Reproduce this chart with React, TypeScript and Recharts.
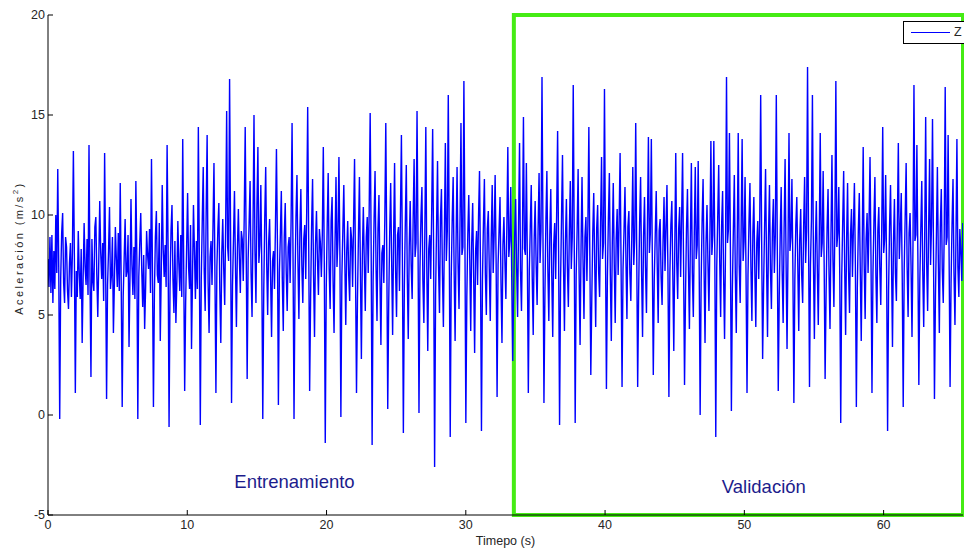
import {
  LineChart,
  Line,
  XAxis,
  YAxis,
  Label,
  ReferenceArea,
  ReferenceDot,
} from "recharts";

const FONT = "'Liberation Sans', Arial, Helvetica, sans-serif";

// sampling step of the recording (s)
const STEP = 0.0701;

const xTicks = [0, 10, 20, 30, 40, 50, 60];
const yTicks = [-5, 0, 5, 10, 15, 20];

// split between training and validation (s)
const splitTime = 33.45;
const endTime = 65.7;

// Z acceleration (m/s^2), training part, one stride per row
const zTrain = [
  7.8, 6.4, 8.9, 6.1, 9.0, 5.6, 8.2, 6.3, 10.0, 7.1,
  12.3, 7.4, -0.2, 6.8, 9.1, 10.1, 6.6, 5.6, 8.9, 8.4, 6.2, 5.3, 7.6, 8.6, 5.9, 8.1,
  13.2, 8.0, 1.1, 7.2, 5.9, 9.2, 7.1, 5.8, 8.3, 3.6, 6.9, 9.6, 7.4, 6.5, 8.8, 6.0,
  13.5, 6.9, 1.9, 8.8, 6.7, 6.2, 9.4, 9.9, 7.0, 4.9, 7.7, 10.7, 8.1, 6.8, 8.6, 5.7,
  13.1, 7.7, 0.8, 6.5, 8.2, 10.4, 6.3, 7.0, 8.9, 4.1, 6.6, 9.4, 7.8, 6.4, 9.1, 6.2,
  11.6, 6.5, 0.4, 5.9, 7.8, 9.8, 6.9, 7.2, 9.0, 3.4, 7.0, 10.8, 7.5, 6.0, 8.4, 5.8,
  11.7, 7.9, -0.2, 6.9, 8.6, 10.1, 7.3, 5.4, 8.0, 4.3, 6.4, 9.2, 8.0, 7.3, 9.3, 6.1,
  12.8, 7.2, 0.4, 6.1, 8.9, 10.2, 7.0, 6.6, 9.6, 3.7, 7.1, 11.5, 8.3, 6.9, 8.5, 6.4,
  13.5, 8.4, -0.6, 6.4, 9.2, 10.5, 6.8, 5.1, 8.7, 4.6, 6.7, 9.7, 7.6, 6.2, 9.0, 5.9,
  13.8, 7.5, 1.2, 5.6, 8.4, 11.1, 7.4, 6.3, 9.5, 3.3, 6.8, 10.5, 8.2, 5.8, 8.7, 6.3,
  14.4, 8.1, -0.5, 6.8, 9.7, 12.4, 7.2, 5.2, 10.1, 14.0, 6.6, 4.1, 7.9, 8.7, 6.5, 9.4,
  12.6, 7.0, 1.1, 7.4, 9.3, 10.6, 6.2, 3.6, 8.1, 9.8, 7.3, 5.5, 9.6, 15.2, 8.4, 7.7,
  16.8, 9.2, 0.6, 6.5, 8.8, 11.2, 7.5, 4.4, 8.3, 10.3, 7.9, 6.1, 9.2, 8.8, 6.7, 9.9,
  14.4, 8.3, 1.8, 7.8, 9.6, 11.7, 7.1, 4.9, 9.4, 15.0, 8.2, 5.6, 10.4, 13.4, 7.6, 8.5,
  11.5, 7.3, -0.2, 6.2, 9.8, 12.4, 7.6, 5.0, 8.6, 9.8, 6.9, 3.9, 7.7, 8.2, 6.3, 9.5,
  13.3, 8.6, 0.5, 7.1, 9.0, 11.2, 6.8, 4.2, 8.9, 10.6, 7.2, 5.2, 8.4, 8.9, 6.6, 9.7,
  14.6, 7.8, -0.2, 6.6, 9.9, 12.0, 7.7, 4.8, 9.1, 11.3, 7.5, 5.6, 8.8, 9.5, 6.8, 10.2,
  15.4, 8.8, 1.2, 5.9, 9.4, 11.8, 7.0, 3.9, 8.5, 10.2, 7.8, 6.0, 9.3, 8.6, 6.9, 9.1,
  13.4, 7.6, -1.4, 6.3, 9.5, 12.1, 7.3, 5.3, 9.7, 10.9, 6.7, 4.1, 8.6, 11.9, 7.4, 8.8,
  12.9, 8.0, -0.1, 6.9, 9.2, 11.5, 7.8, 4.5, 8.2, 9.7, 7.0, 5.7, 9.4, 8.8, 6.4, 9.6,
  12.8, 7.1, 1.1, 5.8, 9.0, 11.9, 7.2, 2.8, 8.0, 10.4, 7.6, 5.2, 8.9, 9.9, 7.1, 10.3,
  15.1, 8.5, -1.5, 6.7, 9.8, 12.2, 7.4, 4.7, 9.3, 11.0, 6.9, 3.5, 8.1, 8.5, 6.6, 9.8,
  14.6, 8.2, 0.3, 5.6, 9.1, 11.6, 7.7, 4.0, 8.8, 12.6, 7.3, 4.9, 9.0, 9.4, 6.2, 10.0,
  14.0, 7.9, -0.9, 6.4, 9.6, 12.5, 7.0, 3.8, 8.4, 10.7, 7.5, 5.8, 9.7, 12.8, 7.9, 8.6,
  15.2, 8.7, 0.1, 7.3, 9.9, 11.4, 6.7, 4.6, 9.2, 14.4, 7.4, 3.2, 8.3, 9.0, 6.8, 10.1,
  14.3, 8.1, -2.6, 6.0, 9.4, 12.7, 7.5, 5.1, 9.8, 11.3, 7.1, 4.4, 8.9, 13.6, 7.7, 9.2,
  16.0, 8.9, -1.1, 6.8, 9.7, 11.9, 7.2, 3.7, 8.7, 12.4, 7.6, 5.3, 9.5, 14.6, 8.0, 8.4,
  16.7, 9.3, -0.4, 5.9, 9.0, 11.0, 7.8, 4.2, 8.6, 10.6, 6.9, 3.1, 8.2, 9.2, 6.5, 9.9,
  12.2, 7.4, -0.8, 6.7, 9.5, 11.8, 7.0, 5.0, 9.3, 10.2, 7.3, 4.7, 8.8, 11.5, 7.1, 9.0,
  12.0, 7.7, 0.9, 7.5, 9.2, 10.9, 6.6, 3.6, 8.5, 9.9, 7.7, 5.8, 9.4, 13.4, 7.9, 8.7,
];

// Z acceleration (m/s^2), validation part
const zValid = [
  11.4, 6.9, 2.7, 6.3, 8.9, 10.8, 7.4, 4.9, 9.6, 13.6, 7.2, 5.2, 9.1, 14.9, 8.3, 8.0,
  12.6, 7.8, 1.1, 7.2, 9.4, 11.5, 6.9, 4.0, 8.8, 10.7, 7.5, 5.5, 9.3, 12.1, 7.6, 9.2,
  16.9, 9.0, 0.6, 6.1, 9.7, 12.2, 7.3, 4.7, 9.0, 11.3, 7.0, 3.9, 8.5, 9.6, 6.8, 10.0,
  14.2, 8.2, -0.5, 6.6, 9.9, 13.0, 7.6, 4.2, 8.7, 10.8, 7.4, 5.4, 9.2, 11.7, 7.3, 8.9,
  16.5, 8.8, -0.4, 7.0, 9.3, 12.3, 7.1, 3.5, 8.4, 11.9, 7.8, 4.8, 8.9, 9.9, 6.7, 9.5,
  14.4, 8.0, 2.0, 5.8, 9.1, 11.1, 7.5, 4.4, 9.3, 10.5, 7.2, 5.9, 9.6, 12.9, 7.8, 8.6,
  16.3, 8.6, 1.3, 6.9, 9.8, 12.1, 7.0, 3.7, 8.6, 11.6, 7.6, 4.6, 8.8, 10.3, 7.0, 9.7,
  13.1, 7.5, 1.4, 7.3, 9.2, 11.4, 7.7, 4.8, 9.4, 10.2, 7.1, 5.7, 9.0, 12.4, 7.5, 8.8,
  14.6, 8.3, 1.4, 6.2, 9.6, 11.9, 7.2, 3.9, 8.9, 10.9, 7.4, 5.1, 9.5, 13.9, 8.1, 9.1,
  13.8, 7.9, 2.0, 6.8, 9.0, 11.2, 7.6, 4.6, 9.2, 9.8, 6.9, 5.5, 8.7, 10.9, 7.2, 9.4,
  11.5, 7.2, 0.9, 7.1, 9.5, 10.7, 7.0, 3.2, 8.3, 13.1, 7.7, 5.8, 9.3, 10.4, 6.9, 9.8,
  13.1, 7.6, 1.5, 6.0, 9.3, 11.3, 7.4, 4.3, 8.8, 12.6, 7.1, 4.9, 9.1, 12.4, 7.8, 8.5,
  12.7, 7.4, 0.0, 6.6, 9.7, 11.8, 7.3, 3.6, 8.6, 10.5, 7.6, 5.2, 8.9, 13.7, 8.0, 9.0,
  13.7, 8.1, -1.1, 7.4, 9.9, 12.5, 7.8, 4.9, 9.5, 11.2, 7.0, 3.8, 8.4, 16.9, 8.6, 9.3,
  14.1, 8.4, 0.2, 6.3, 9.2, 12.0, 7.1, 4.1, 8.7, 14.1, 7.5, 5.6, 9.4, 13.8, 7.7, 8.7,
  11.9, 7.0, 1.1, 7.0, 9.6, 11.6, 7.4, 4.7, 9.1, 10.9, 7.2, 4.4, 8.6, 9.7, 6.8, 9.6,
  16.0, 8.7, 2.8, 6.5, 9.4, 12.3, 7.6, 3.9, 8.9, 11.5, 7.3, 5.3, 9.2, 10.8, 7.1, 9.0,
  16.0, 8.5, 1.2, 5.9, 9.0, 11.4, 7.2, 4.6, 9.3, 12.8, 7.7, 3.3, 8.3, 14.1, 8.2, 8.9,
  11.8, 7.3, 0.6, 6.8, 9.5, 10.9, 7.5, 4.2, 8.8, 10.3, 7.0, 5.6, 9.4, 11.9, 7.6, 9.2,
  17.4, 9.1, 1.4, 7.5, 9.8, 16.0, 7.9, 3.8, 8.5, 10.7, 7.4, 4.5, 8.9, 14.1, 7.9, 8.6,
  12.2, 7.6, 1.8, 6.1, 9.3, 11.3, 7.1, 4.3, 9.0, 13.0, 7.8, 5.4, 9.5, 16.7, 8.4, 9.1,
  11.4, 7.0, -0.4, 6.9, 9.6, 12.2, 7.5, 4.0, 8.7, 11.6, 7.2, 5.1, 9.0, 10.3, 6.9, 9.4,
  11.6, 7.5, 0.4, 6.4, 9.2, 11.1, 7.3, 3.7, 8.4, 13.4, 7.6, 4.8, 8.8, 10.1, 7.1, 9.7,
  12.9, 7.8, 1.1, 7.1, 9.7, 11.9, 7.0, 4.6, 9.2, 10.4, 7.4, 5.5, 9.3, 14.4, 8.1, 8.8,
  12.0, 7.2, -0.8, 6.2, 9.4, 11.5, 7.7, 3.4, 8.6, 10.8, 7.1, 5.7, 9.6, 13.6, 7.8, 9.3,
  11.1, 6.8, 0.4, 7.3, 9.9, 12.6, 7.4, 4.9, 9.1, 10.1, 7.5, 3.9, 8.5, 16.5, 8.7, 9.0,
  13.5, 8.0, 1.5, 6.7, 9.3, 11.7, 7.2, 4.4, 8.9, 14.9, 7.7, 5.2, 9.2, 12.8, 7.5, 9.5,
  14.8, 8.3, 0.8, 5.9, 9.0, 12.4, 7.6, 4.1, 9.4, 11.3, 7.3, 5.6, 9.1, 16.4, 8.5, 8.9,
  14.0, 7.9, 1.4, 6.6, 9.5, 11.8, 7.1, 4.5, 8.7, 13.8, 7.4, 5.9, 9.3, 8.2, 6.7, 9.6,
];

const data = [...zTrain, ...zValid].map((z, i) => ({ t: i * STEP, z }));

const tickStyle = { fontSize: 12.5, fill: "#262626", fontFamily: FONT };

const YTitle = (props: any) => {
  const { viewBox } = props;
  const cx = viewBox.x + 19;
  const cy = viewBox.y + 233;
  return (
    <text
      x={cx}
      y={cy}
      transform={`rotate(-90, ${cx}, ${cy})`}
      textAnchor="middle"
      dominantBaseline="central"
      fontSize={11}
      letterSpacing={2.4}
      fill="#262626"
      fontFamily={FONT}
    >
      Aceleración (m/s
      <tspan dy={-4} fontSize={8}>
        2
      </tspan>
      <tspan dy={4}>)</tspan>
    </text>
  );
};

export default function App() {
  return (
    <div
      style={{
        position: "absolute",
        left: 0,
        top: 0,
        width: 964,
        height: 550,
        overflow: "hidden",
        background: "#fff",
      }}
    >
      <LineChart
        width={964}
        height={550}
        data={data}
        margin={{ top: 15, right: 1, bottom: 0, left: 0 }}
      >
        <XAxis
          xAxisId="b"
          type="number"
          dataKey="t"
          domain={[0, endTime]}
          allowDataOverflow
          ticks={xTicks}
          interval={0}
          height={35}
          tickSize={-5}
          tickMargin={10}
          stroke="#000"
          tick={tickStyle}
        >
          <Label
            value="Timepo (s)"
            position="insideBottom"
            offset={5}
            style={{ fontSize: 12.5, fill: "#262626", fontFamily: FONT }}
          />
        </XAxis>
        <XAxis
          xAxisId="top"
          orientation="top"
          type="number"
          dataKey="t"
          domain={[0, endTime]}
          allowDataOverflow
          ticks={xTicks}
          interval={0}
          height={0}
          tickSize={-5}
          tickFormatter={() => ""}
          stroke="#000"
        />
        <YAxis
          yAxisId="l"
          domain={[-5, 20]}
          ticks={yTicks}
          interval={0}
          width={48}
          tickSize={-5}
          tickMargin={8}
          stroke="#000"
          tick={tickStyle}
        >
          <Label content={YTitle} />
        </YAxis>
        <YAxis
          yAxisId="r"
          orientation="right"
          domain={[-5, 20]}
          ticks={yTicks}
          interval={0}
          width={0}
          tickSize={-5}
          tickFormatter={() => ""}
          stroke="#000"
        />
        <Line
          xAxisId="b"
          yAxisId="l"
          type="linear"
          dataKey="z"
          stroke="#0000ff"
          strokeWidth={1.4}
          dot={false}
          isAnimationActive={false}
        />
        <ReferenceArea
          xAxisId="b"
          yAxisId="l"
          x1={splitTime}
          x2={endTime}
          y1={-5}
          y2={20}
          fill="none"
          fillOpacity={0}
          stroke="#45ec14"
          strokeWidth={4}
        />
        <ReferenceDot
          xAxisId="b"
          yAxisId="l"
          x={17.7}
          y={-3.3}
          r={0}
          fill="none"
          stroke="none"
          label={{
            value: "Entrenamiento",
            position: "center",
            fill: "#1c1c8c",
            fontSize: 18.5,
            fontFamily: FONT,
          }}
        />
        <ReferenceDot
          xAxisId="b"
          yAxisId="l"
          x={51.4}
          y={-3.55}
          r={0}
          fill="none"
          stroke="none"
          label={{
            value: "Validación",
            position: "center",
            fill: "#1c1c8c",
            fontSize: 18.5,
            fontFamily: FONT,
          }}
        />
      </LineChart>
      <div
        style={{
          position: "absolute",
          left: 903,
          top: 21,
          width: 70,
          height: 21,
          border: "1px solid #000",
          background: "#fff",
          fontFamily: FONT,
          fontSize: 12.5,
          color: "#262626",
        }}
      >
        <svg width={48} height={21} style={{ position: "absolute", left: 0, top: 0 }}>
          <line x1={7} x2={46} y1={10.5} y2={10.5} stroke="#0000ff" strokeWidth={1} />
        </svg>
        <span style={{ position: "absolute", left: 50, top: 3 }}>Z</span>
      </div>
    </div>
  );
}
